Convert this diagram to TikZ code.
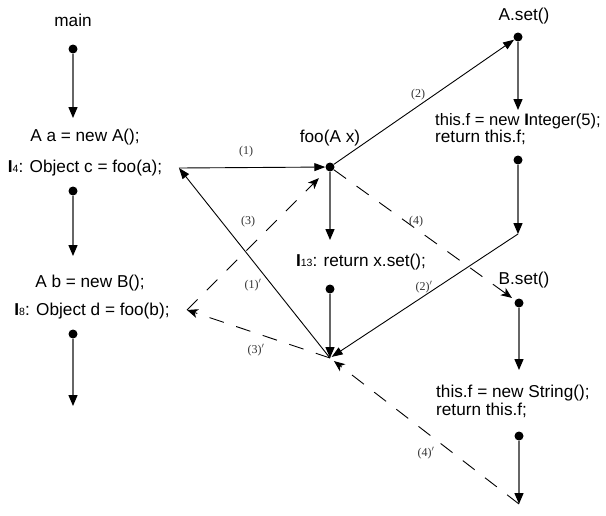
\documentclass[tikz,border=0pt]{standalone}
\usepackage{fontspec}
\setmainfont{Liberation Sans}
\newfontfamily\lblfont{Liberation Serif}
\usetikzlibrary{arrows.meta}
\newcommand{\Ibar}{\textbf{I}}
\newcommand{\smd}[1]{{\fontsize{10.5}{10.5}\selectfont #1}}
\tikzset{
  txt/.style={inner sep=0pt, font=\fontsize{17.2}{19}\selectfont},
  lbl/.style={inner sep=0pt, font=\lblfont\fontsize{12}{13}\selectfont, text=black!80},
  dot/.style={circle, fill=black, inner sep=0pt, minimum size=9pt},
  flow/.style={draw=black!60, line width=1.3pt, -{Triangle[length=11pt,width=9pt,color=black]}},
  call/.style={draw=black, line width=0.9pt, -{Triangle[length=11pt,width=8pt]}},
  ret/.style={draw=black, line width=0.9pt, dash pattern=on 15pt off 13pt, -{Stealth[length=11pt,width=9pt,inset=3pt]}}
}
\begin{document}
\begin{tikzpicture}[x=1pt,y=-1pt]
\useasboundingbox (0,0) rectangle (606,515);
% main column
\node[txt] (tmain) at (73,20) {main};
\node[dot] (d1) at (73,49) {};
\coordinate (e1) at (73,118);
\node[txt] (t1) at (85,137) {A a = new A();};
\node[txt] (t2) at (85,168) {\Ibar\smd{4}: Object c = foo(a);};
\node[dot] (d2) at (73,191) {};
\coordinate (e2) at (73,256);
\node[txt] (t3) at (90,283) {A b = new B();};
\node[txt] (t4) at (92,311) {\Ibar\smd{8}: Object d = foo(b);};
\node[dot] (d3) at (73,334) {};
\coordinate (e3) at (73,406);
\draw[flow] (d1) -- (e1);
\draw[flow] (d2) -- (e2);
\draw[flow] (d3) -- (e3);
% foo column
\node[txt] (tfoo) at (330,138) {foo(A x)};
\node[dot] (f) at (330,167) {};
\coordinate (e4) at (330,240);
\node[txt] (t13) at (361,262) {\Ibar\smd{13}: return x.set();};
\node[dot] (d4) at (330,289) {};
\coordinate (m) at (330,358);
\draw[flow] (f) -- (e4);
\draw[flow] (d4) -- (m);
% A.set column
\node[txt] (tas) at (524,16) {A.set()};
\node[dot] (as) at (518,37) {};
\coordinate (e5) at (518,110);
\node[txt, anchor=west, font=\fontsize{16.6}{18}\selectfont] (ta1) at (435,121) {this.f = new \Ibar nteger(5);};
\node[txt, anchor=west] (ta2) at (435,137) {return this.f;};
\node[dot] (d5) at (518,160) {};
\coordinate (ae) at (518,234);
\draw[flow] (as) -- (e5);
\draw[flow] (d5) -- (ae);
% B.set column
\node[txt] (tbs) at (524,280) {B.set()};
\node[dot] (bs) at (519,303) {};
\coordinate (e6) at (519,370);
\node[txt, anchor=west] (tb1) at (436,393) {this.f = new String();};
\node[txt, anchor=west] (tb2) at (436,410) {return this.f;};
\node[dot] (d6) at (519,436) {};
\coordinate (be) at (519,504);
\draw[flow] (bs) -- (e6);
\draw[flow] (d6) -- (be);
% call/return edges
\coordinate (c4) at (179,168);
\coordinate (c8) at (187,310);
\draw[call] (c4) -- (f);
\draw[call] (f) -- (as);
\draw[call] (m) -- (c4);
\draw[ret, shorten >=4pt] (f) -- (bs);
\draw[ret, shorten >=11pt] (c8) -- (f);
\draw[call, shorten >=2pt] (ae) -- (m);
\draw[ret] (m) -- (c8);
\draw[ret, shorten >=5pt] (be) -- (m);
% labels
\node[lbl] (l1) at (246,152) {(1)};
\node[lbl] (l2) at (418,95) {(2)};
\node[lbl] (l3) at (248,222) {(3)};
\node[lbl] (l4) at (416,222) {(4)};
\node[lbl] (l1p) at (253,285) {(1)${}'$};
\node[lbl] (l2p) at (424,287) {(2)${}'$};
\node[lbl] (l3p) at (256,350) {(3)${}'$};
\node[lbl] (l4p) at (426,453) {(4)${}'$};
\end{tikzpicture}
\end{document}
